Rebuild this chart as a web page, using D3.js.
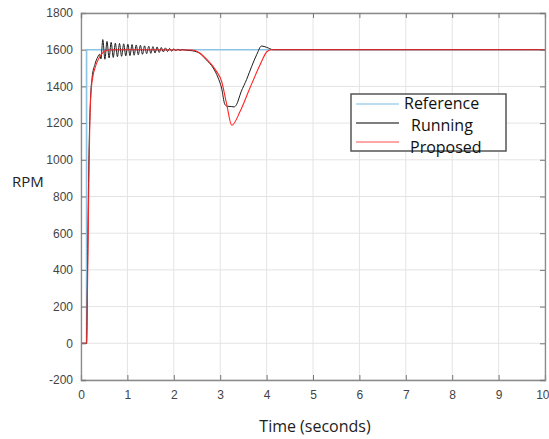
<!DOCTYPE html>
<html>
<head>
<meta charset="utf-8">
<script src="https://cdn.jsdelivr.net/npm/d3@7"></script>
<style>
  body { margin: 0; background: #fff; }
  svg { display: block; }
</style>
</head>
<body>
<svg id="plot" width="549" height="439"></svg>
<script>
// axis ticks
var xTicks = [0, 1, 2, 3, 4, 5, 6, 7, 8, 9, 10];
var yTicks = [-200, 0, 200, 400, 600, 800, 1000, 1200, 1400, 1600, 1800];

// reference speed step
var refTime = [0, 0.12, 0.12, 10];
var refRpm  = [0, 0, 1600, 1600];

// running (black)
var runTime = [0, 0.12, 0.14, 0.17, 0.20, 0.24, 0.30, 0.36, 0.40, 0.43,
  0.47, 0.515, 0.56, 0.605, 0.65, 0.695, 0.74, 0.785, 0.83, 0.875,
  0.92, 0.965, 1.01, 1.055, 1.10, 1.145, 1.19, 1.235, 1.28, 1.325,
  1.37, 1.415, 1.46, 1.505, 1.55, 1.595, 1.64, 1.685, 1.73, 1.775,
  1.82, 1.865, 1.91, 1.955, 2.00, 2.045, 2.09, 2.135, 2.18, 2.25,
  2.40, 2.56, 2.70, 2.85, 2.95, 3.03, 3.10, 3.15, 3.25, 3.30,
  3.35, 3.45, 3.57, 3.68, 3.79, 3.89, 4.00, 4.14, 10];
var runRpm = [0, 0, 400, 1000, 1300, 1450, 1520, 1560, 1575, 1550,
  1655, 1548, 1645, 1555, 1640, 1558, 1636, 1562, 1634, 1564,
  1632, 1566, 1630, 1568, 1628, 1570, 1626, 1572, 1624, 1575,
  1621, 1578, 1619, 1580, 1617, 1582, 1615, 1585, 1612, 1588,
  1610, 1590, 1607, 1592, 1605, 1594, 1603, 1596, 1601, 1598,
  1594, 1580, 1545, 1500, 1450, 1391, 1302, 1292, 1290, 1288,
  1300, 1370, 1438, 1510, 1575, 1620, 1613, 1600, 1600];

// proposed (red)
var propTime = [0, 0.12, 0.14, 0.17, 0.19, 0.22, 0.26, 0.30, 0.40, 0.50,
  0.60, 0.80, 2.40, 2.56, 2.70, 2.92, 3.03, 3.14, 3.25, 3.43,
  3.64, 3.86, 4.01, 4.10, 10];
var propRpm = [0, 0, 300, 900, 1200, 1380, 1460, 1500, 1560, 1590,
  1598, 1600, 1598, 1582, 1550, 1482, 1428, 1302, 1188, 1264,
  1391, 1518, 1590, 1600, 1600];

var legendNames = ['Reference', 'Running', 'Proposed'];

var margin = {left: 81, right: 4, top: 13, bottom: 59};
var svg = d3.select('#plot');
var width = 549 - margin.left - margin.right;
var height = 439 - margin.top - margin.bottom;

var x = d3.scaleLinear().domain([0, 10]).range([0, width]);
var y = d3.scaleLinear().domain([-200, 1800]).range([height, 0]);

var g = svg.append('g')
    .attr('transform', 'translate(' + margin.left + ',' + margin.top + ')');

// grid
g.append('g').selectAll('line').data(xTicks).enter().append('line')
    .attr('x1', function(d){ return x(d); })
    .attr('x2', function(d){ return x(d); })
    .attr('y1', 0).attr('y2', height)
    .attr('stroke', '#e4e4e4').attr('stroke-width', 1);
g.append('g').selectAll('line').data(yTicks).enter().append('line')
    .attr('y1', function(d){ return y(d); })
    .attr('y2', function(d){ return y(d); })
    .attr('x1', 0).attr('x2', width)
    .attr('stroke', '#e4e4e4').attr('stroke-width', 1);

function toPoints(ts, vs) {
    return ts.map(function(t, i){ return [t, vs[i]]; });
}

var line = d3.line()
    .x(function(d){ return x(d[0]); })
    .y(function(d){ return y(d[1]); });

g.append('path').datum(toPoints(refTime, refRpm))
    .attr('d', line).attr('fill', 'none')
    .attr('stroke', '#8cc4e6').attr('stroke-width', 1.6);
g.append('path').datum(toPoints(runTime, runRpm))
    .attr('d', line.curve(d3.curveMonotoneX)).attr('fill', 'none')
    .attr('stroke', '#1e1e1e').attr('stroke-width', 1);
g.append('path').datum(toPoints(propTime, propRpm))
    .attr('d', line.curve(d3.curveMonotoneX)).attr('fill', 'none')
    .attr('stroke', '#ff2424').attr('stroke-width', 1.1);

var plain = function(d){ return String(d); };

// axes, ticks pointing inside
var xAxis = g.append('g')
    .attr('transform', 'translate(0,' + height + ')')
    .call(d3.axisBottom(x).tickValues(xTicks).tickSize(-5).tickPadding(10).tickFormat(plain));
var yAxis = g.append('g')
    .call(d3.axisLeft(y).tickValues(yTicks).tickSize(-5).tickPadding(8).tickFormat(plain));
g.append('g')
    .call(d3.axisTop(x).tickValues(xTicks).tickSize(-5).tickFormat(''));
g.append('g')
    .attr('transform', 'translate(' + width + ',0)')
    .call(d3.axisRight(y).tickValues(yTicks).tickSize(-5).tickFormat(''));

// last x label would run off the page, keep it inside
xAxis.selectAll('.tick text')
    .filter(function(d){ return d === 10; })
    .attr('text-anchor', 'end').attr('dx', '4');

svg.selectAll('.domain').attr('stroke', '#8a8a8a').attr('stroke-width', 1.3);
svg.selectAll('.tick line').attr('stroke', '#777');
svg.selectAll('.tick text')
    .attr('fill', '#444')
    .style('font-family', 'Liberation Sans, Arial, sans-serif')
    .style('font-size', '12px');

// axis titles
svg.append('text')
    .attr('x', 12).attr('y', 187)
    .style('font-family', 'Open Sans, sans-serif')
    .style('font-size', '15px')
    .attr('fill', '#222')
    .text('RPM');
svg.append('text')
    .attr('x', 315).attr('y', 432)
    .attr('text-anchor', 'middle')
    .style('font-family', 'Open Sans, sans-serif')
    .style('font-size', '16px')
    .attr('fill', '#222')
    .text('Time (seconds)');

// legend
var legend = svg.append('g');
legend.append('rect')
    .attr('x', 351).attr('y', 94).attr('width', 155).attr('height', 57)
    .attr('fill', '#fff').attr('stroke', '#555').attr('stroke-width', 1.5);
var legendColors = ['#a6d0ec', '#555', '#ff8a8a'];
var legendTextX = [404, 411, 410];
var legendRows = legend.selectAll('.item').data(legendNames).enter()
    .append('g').attr('class', 'item');
legendRows.append('line')
    .attr('x1', 356).attr('x2', 399)
    .attr('y1', function(d, i){ return 104 + i * 19; })
    .attr('y2', function(d, i){ return 104 + i * 19; })
    .attr('stroke', function(d, i){ return legendColors[i]; })
    .attr('stroke-width', 1.3);
legendRows.append('text')
    .attr('x', function(d, i){ return legendTextX[i]; })
    .attr('y', function(d, i){ return 109 + i * 22; })
    .style('font-family', 'Open Sans, sans-serif')
    .style('font-size', '16px')
    .attr('fill', '#111')
    .text(function(d){ return d; });
</script>
</body>
</html>
